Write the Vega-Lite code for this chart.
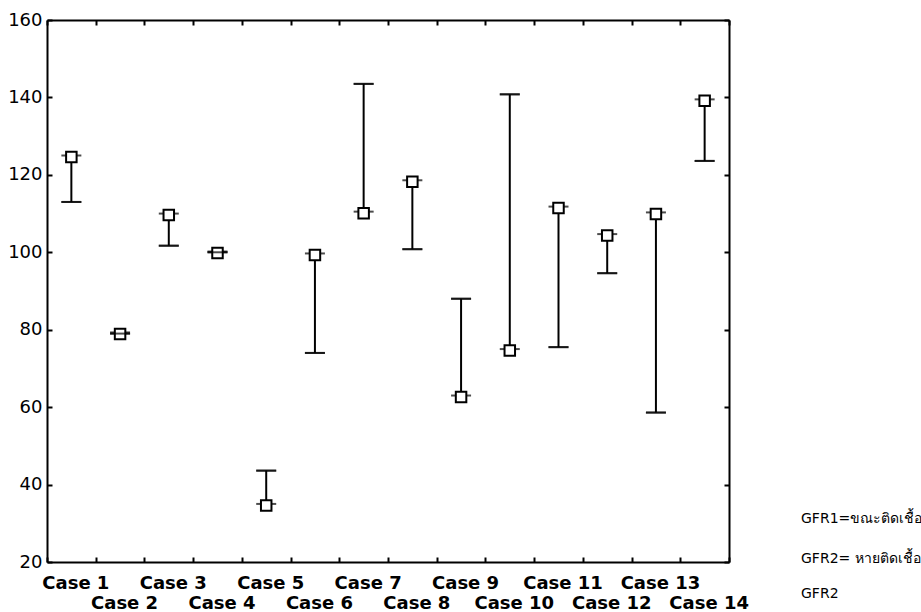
{
  "$schema": "https://vega.github.io/schema/vega-lite/v6.json",
  "width": 682,
  "height": 542,
  "autosize": {"type": "none"},
  "padding": {"left": 47, "top": 20, "right": 192, "bottom": 50},
  "background": "white",
  "config": {
    "view": {"stroke": null},
    "font": "DejaVu Sans",
    "axis": {"grid": false, "domainColor": "black", "domainWidth": 2, "tickColor": "black", "tickWidth": 2, "labelColor": "black", "labelFont": "DejaVu Sans"}
  },
  "data": {
    "values": [
      {"case": "Case 1", "GFR1": 113, "GFR2": 125, "series": "GFR2"},
      {"case": "Case 2", "GFR1": 79, "GFR2": 79.3, "series": "GFR2"},
      {"case": "Case 3", "GFR1": 101.7, "GFR2": 110, "series": "GFR2"},
      {"case": "Case 4", "GFR1": 100, "GFR2": 100.2, "series": "GFR2"},
      {"case": "Case 5", "GFR1": 43.6, "GFR2": 35, "series": "GFR2"},
      {"case": "Case 6", "GFR1": 74, "GFR2": 99.7, "series": "GFR2"},
      {"case": "Case 7", "GFR1": 143.5, "GFR2": 110.5, "series": "GFR2"},
      {"case": "Case 8", "GFR1": 100.8, "GFR2": 118.6, "series": "GFR2"},
      {"case": "Case 9", "GFR1": 88, "GFR2": 63, "series": "GFR2"},
      {"case": "Case 10", "GFR1": 140.8, "GFR2": 75, "series": "GFR2"},
      {"case": "Case 11", "GFR1": 75.5, "GFR2": 111.8, "series": "GFR2"},
      {"case": "Case 12", "GFR1": 94.6, "GFR2": 104.7, "series": "GFR2"},
      {"case": "Case 13", "GFR1": 58.6, "GFR2": 110.3, "series": "GFR2"},
      {"case": "Case 14", "GFR1": 123.6, "GFR2": 139.5, "series": "GFR2"}
    ]
  },
  "layer": [
    {
      "layer": [
        {
          "mark": {"type": "rule", "color": "black", "strokeWidth": 2},
          "encoding": {
            "x": {"field": "case", "type": "nominal", "sort": null,
              "scale": {"paddingInner": 0, "paddingOuter": 0},
              "axis": {"orient": "bottom", "title": null, "tickBand": "extent", "tickSize": -5, "labelAngle": 0, "labelFontSize": 18, "labelFontWeight": "bold", "labelPadding": 17, "labelLineHeight": 20, "labelBaseline": "top", "labelAlign": "center", "labelOffset": 4, "labelOverlap": false, "labelLimit": 0,
                "labelExpr": "indexof(['Case 2', 'Case 4', 'Case 6', 'Case 8', 'Case 10', 'Case 12', 'Case 14'], datum.label) >= 0 ? ['', datum.label] : datum.label"}},
            "y": {"field": "GFR1", "type": "quantitative", "scale": {"domain": [20, 160], "nice": false, "zero": false},
              "axis": {"orient": "left", "title": null, "values": [20, 40, 60, 80, 100, 120, 140, 160], "tickSize": -5, "labelFontSize": 18, "labelPadding": 10}},
            "y2": {"field": "GFR2"}
          }
        },
        {
          "mark": {"type": "tick", "color": "black", "thickness": 2, "size": 20, "orient": "horizontal"},
          "encoding": {
            "x": {"field": "case", "type": "nominal", "sort": null},
            "y": {"field": "GFR1", "type": "quantitative"}
          }
        },
        {
          "mark": {"type": "tick", "color": "black", "thickness": 2, "size": 20, "orient": "horizontal"},
          "encoding": {
            "x": {"field": "case", "type": "nominal", "sort": null},
            "y": {"field": "GFR2", "type": "quantitative"}
          }
        },
        {
          "mark": {"type": "point", "filled": false, "fill": "white", "stroke": "black", "strokeWidth": 2, "size": 544, "opacity": 1, "yOffset": 1.5},
          "encoding": {
            "x": {"field": "case", "type": "nominal", "sort": null},
            "y": {"field": "GFR2", "type": "quantitative"},
            "shape": {"field": "series", "type": "nominal",
              "scale": {"domain": ["GFR1=ขณะติดเชื้อ", "GFR2= หายติดเชื้อ", "GFR2"],
                        "range": ["M-1,-0.8H1M0,-0.8V0.8M-1,0.8H1", "M0,0L0,0", "M-0.45,-0.45H0.45V0.45H-0.45Z"]},
              "legend": {"title": null, "orient": "none", "legendX": 716, "legendY": 488, "padding": 0, "symbolSize": 400, "symbolStrokeColor": "black", "symbolStrokeWidth": 2, "symbolFillColor": "white", "labelFontSize": 14, "labelFont": "DejaVu Sans", "labelColor": "black", "labelOffset": 16, "rowPadding": 17, "labelLimit": 0,
                "encode": {"symbols": {"update": {"stroke": {"value": "black"}, "strokeWidth": {"value": 2}, "fill": {"value": "white"}, "opacity": {"value": 1}}}}}}
          }
        }
      ]
    },
    {
      "mark": {"type": "tick", "color": "black", "thickness": 2, "size": 20, "orient": "horizontal"},
      "encoding": {
        "x": {"field": "case", "type": "nominal", "sort": null,
          "axis": {"orient": "top", "title": null, "tickBand": "extent", "tickSize": -5, "labels": false}},
        "y": {"field": "GFR1", "type": "quantitative",
          "axis": {"orient": "right", "title": null, "values": [20, 40, 60, 80, 100, 120, 140, 160], "tickSize": -5, "labels": false}}
      }
    }
  ],
  "resolve": {"axis": {"x": "independent", "y": "independent"}}
}
